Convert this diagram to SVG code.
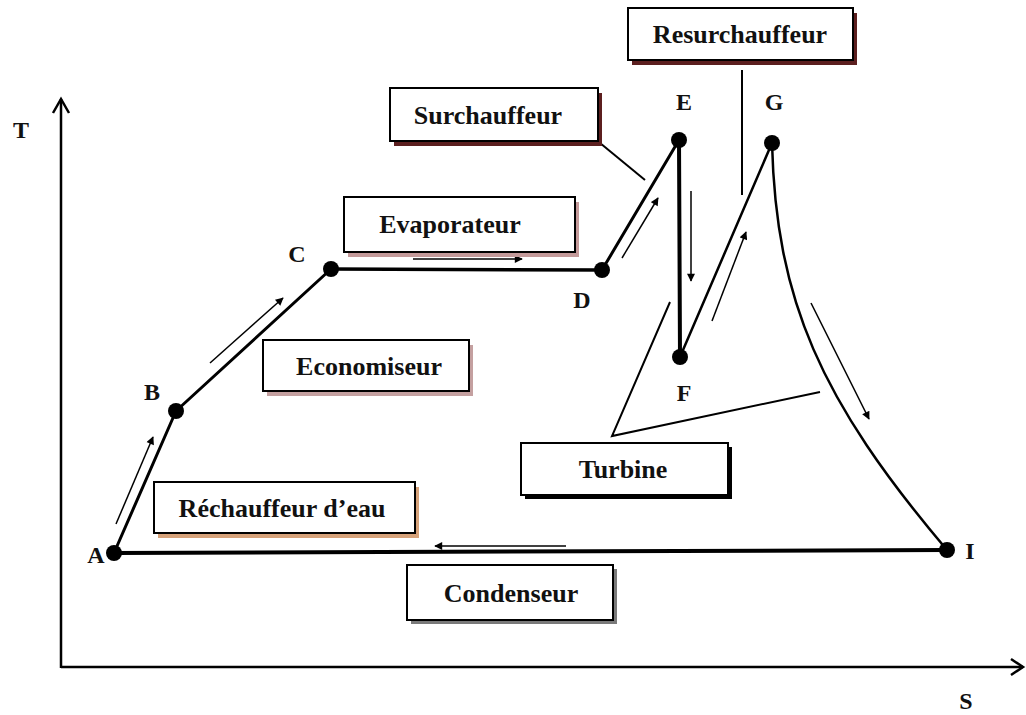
<svg xmlns="http://www.w3.org/2000/svg" width="1026" height="715" viewBox="0 0 1026 715">
<defs>
<style>
.lbl{font-family:"Liberation Serif","Times New Roman",serif;font-weight:bold;font-size:26px;fill:#111;text-anchor:middle}
.pt{font-family:"Liberation Serif","Times New Roman",serif;font-weight:bold;font-size:24px;fill:#111;text-anchor:middle}
.box{fill:#fff;stroke:#000;stroke-width:2}
.main{fill:none;stroke:#000;stroke-linecap:round}
.flow{fill:none;stroke:#000;stroke-width:1.5;marker-end:url(#ah)}
.lead{fill:none;stroke:#000;stroke-width:2}
</style>
<marker id="ah" viewBox="0 0 10 10" refX="9" refY="5" markerWidth="10" markerHeight="8" markerUnits="userSpaceOnUse" orient="auto">
<path d="M0,0 L10,5 L0,10 z" fill="#000"/>
</marker>
</defs>
<rect width="1026" height="715" fill="#fff"/>

<g id="axes">
<line x1="61" y1="668" x2="61" y2="99" stroke="#000" stroke-width="2.5"/>
<polyline points="53,113 61,99 69,113" fill="none" stroke="#000" stroke-width="2.5"/>
<line x1="61" y1="667" x2="1023" y2="667" stroke="#000" stroke-width="2.5"/>
<polyline points="1011,659 1023,667 1011,675" fill="none" stroke="#000" stroke-width="2.5"/>
<text class="pt" x="21" y="138">T</text>
<text class="pt" x="966" y="709">S</text>
</g>

<g id="connectors">
<line class="main" x1="114" y1="553" x2="176" y2="411" stroke-width="3"/>
<line class="main" x1="176" y1="411" x2="331" y2="269" stroke-width="3"/>
<line class="main" x1="331" y1="269" x2="602" y2="270" stroke-width="3.5"/>
<line class="main" x1="602" y1="270" x2="679" y2="140" stroke-width="3"/>
<line class="main" x1="679" y1="140" x2="680" y2="357" stroke-width="4"/>
<line class="main" x1="680" y1="357" x2="772" y2="143" stroke-width="2.5"/>
<path class="main" d="M772,143 C776,300 820,400 947,550" stroke-width="2.5"/>
<line class="main" x1="947" y1="550" x2="114" y2="553" stroke-width="4"/>

<line class="flow" x1="116" y1="524" x2="153" y2="437"/>
<line class="flow" x1="210" y1="363" x2="283" y2="298"/>
<line class="flow" x1="413" y1="259" x2="522" y2="259"/>
<line class="flow" x1="622" y1="258" x2="658" y2="198"/>
<line class="flow" x1="691" y1="191" x2="691" y2="281"/>
<line class="flow" x1="712" y1="321" x2="746" y2="232"/>
<line class="flow" x1="811" y1="303" x2="869" y2="419"/>
<line class="flow" x1="566" y1="546" x2="435" y2="546"/>

<line class="lead" x1="600" y1="143" x2="645" y2="180"/>
<line class="lead" x1="742" y1="70" x2="742" y2="195" stroke-width="3"/>
<polyline class="lead" points="670,302 612,436 820,392"/>
</g>

<g id="points">
<circle cx="114" cy="553" r="8"/>
<circle cx="176" cy="411" r="8"/>
<circle cx="331" cy="269" r="8"/>
<circle cx="602" cy="270" r="8"/>
<circle cx="679" cy="140" r="8"/>
<circle cx="680" cy="357" r="8"/>
<circle cx="772" cy="143" r="8"/>
<circle cx="947" cy="550" r="8"/>
<text class="pt" x="96" y="563">A</text>
<text class="pt" x="152" y="400">B</text>
<text class="pt" x="297" y="262">C</text>
<text class="pt" x="582" y="308">D</text>
<text class="pt" x="684" y="110">E</text>
<text class="pt" x="684" y="401">F</text>
<text class="pt" x="774" y="110">G</text>
<text class="pt" x="970" y="559">I</text>
</g>

<g id="surchauffeur">
<rect x="394" y="93" width="208" height="53" fill="#5c1f1f"/>
<rect class="box" x="390" y="88" width="208" height="53"/>
<text class="lbl" x="488" y="124">Surchauffeur</text>
</g>

<g id="resurchauffeur">
<rect x="632" y="13" width="225" height="52" fill="#5c1f1f"/>
<rect class="box" x="628" y="8" width="225" height="52"/>
<text class="lbl" x="740" y="43">Resurchauffeur</text>
</g>

<g id="evaporateur">
<rect x="348" y="202" width="231" height="55" fill="#c49a9a"/>
<rect class="box" x="344" y="197" width="231" height="55"/>
<text class="lbl" x="450" y="233">Evaporateur</text>
</g>

<g id="economiseur">
<rect x="267" y="345" width="206" height="51" fill="#c4a0a0"/>
<rect class="box" x="263" y="340" width="206" height="51"/>
<text class="lbl" x="369" y="375">Economiseur</text>
</g>

<g id="rechauffeur">
<rect x="158" y="487" width="261" height="51" fill="#d6a27a"/>
<rect class="box" x="154" y="482" width="261" height="51"/>
<text class="lbl" x="282" y="517">Réchauffeur d’eau</text>
</g>

<g id="turbine">
<rect x="525" y="447" width="207" height="52" fill="#000"/>
<rect class="box" x="521" y="443" width="207" height="52"/>
<text class="lbl" x="623" y="478">Turbine</text>
</g>

<g id="condenseur">
<rect x="411" y="569" width="206" height="55" fill="#7a7a7a"/>
<rect class="box" x="407" y="565" width="206" height="55"/>
<text class="lbl" x="511" y="602">Condenseur</text>
</g>
</svg>
